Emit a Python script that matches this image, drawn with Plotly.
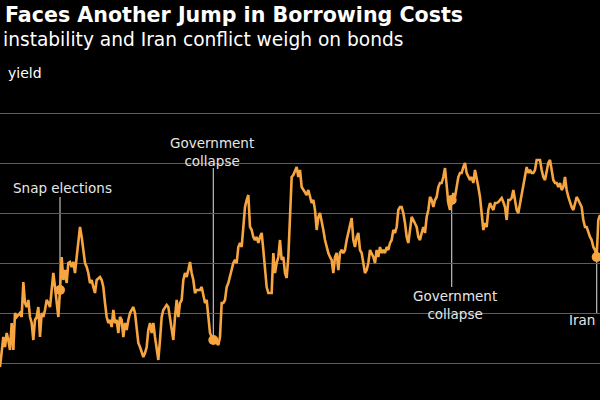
import pandas as pd
import numpy as np
import plotly.graph_objects as go

# French 10-year yield (%), evenly spaced samples
yields = [
    2.784, 2.852, 2.904, 2.864, 2.920, 2.892, 2.852, 2.960, 2.852, 3.000,
    2.984, 2.992, 3.000, 2.984, 3.124, 3.040, 3.024, 3.052, 2.984, 2.960,
    2.892, 2.972, 2.984, 3.024, 2.904, 3.000, 2.984, 3.012, 3.052, 3.040,
    3.024, 3.092, 3.160, 3.104, 3.040, 2.984, 3.092, 3.224, 3.132, 3.172,
    3.120, 3.200, 3.204, 3.184, 3.204, 3.160, 3.224, 3.292, 3.344, 3.304,
    3.240, 3.200, 3.184, 3.160, 3.120, 3.132, 3.104, 3.080, 3.132, 3.140,
    3.144, 3.132, 3.104, 3.040, 2.984, 2.960, 2.972, 2.944, 3.012, 2.960,
    2.972, 2.920, 2.984, 2.972, 2.904, 2.960, 2.932, 2.972, 3.000, 3.012,
    3.024, 3.000, 2.932, 2.880, 2.864, 2.840, 2.824, 2.840, 2.864, 2.932,
    2.960, 2.920, 2.960, 2.904, 2.864, 2.812, 2.892, 2.984, 3.012, 3.024,
    3.032, 3.024, 2.984, 2.932, 2.892, 2.984, 3.052, 2.984, 3.040, 3.052,
    3.132, 3.160, 3.144, 3.172, 3.204, 3.160, 3.132, 3.080, 3.092, 3.092,
    3.092, 3.104, 3.064, 3.040, 3.052, 2.984, 2.920, 2.904, 2.892, 2.900,
    2.880, 2.872, 2.904, 3.040, 3.040, 3.052, 3.104, 3.120, 3.144, 3.172,
    3.200, 3.212, 3.200, 3.264, 3.280, 3.264, 3.360, 3.424, 3.452, 3.472,
    3.344, 3.332, 3.304, 3.292, 3.304, 3.280, 3.304, 3.320, 3.252, 3.172,
    3.104, 3.080, 3.080, 3.080, 3.240, 3.160, 3.200, 3.224, 3.292, 3.212,
    3.224, 3.160, 3.140, 3.224, 3.384, 3.544, 3.552, 3.572, 3.584, 3.544,
    3.572, 3.504, 3.492, 3.480, 3.472, 3.492, 3.464, 3.440, 3.452, 3.412,
    3.332, 3.384, 3.400, 3.372, 3.332, 3.292, 3.264, 3.240, 3.224, 3.212,
    3.160, 3.224, 3.240, 3.172, 3.240, 3.252, 3.240, 3.252, 3.292, 3.320,
    3.360, 3.380, 3.292, 3.264, 3.304, 3.320, 3.252, 3.240, 3.200, 3.160,
    3.172, 3.200, 3.252, 3.240, 3.224, 3.200, 3.252, 3.224, 3.264, 3.240,
    3.252, 3.240, 3.264, 3.252, 3.280, 3.292, 3.332, 3.320, 3.344, 3.412,
    3.424, 3.424, 3.400, 3.360, 3.304, 3.280, 3.332, 3.384, 3.372, 3.360,
    3.344, 3.304, 3.292, 3.320, 3.344, 3.320, 3.384, 3.412, 3.464, 3.452,
    3.424, 3.452, 3.464, 3.504, 3.520, 3.520, 3.544, 3.580, 3.504, 3.440,
    3.412, 3.452, 3.480, 3.464, 3.504, 3.544, 3.560, 3.560, 3.584, 3.600,
    3.560, 3.544, 3.532, 3.544, 3.520, 3.572, 3.544, 3.504, 3.464, 3.384,
    3.332, 3.360, 3.344, 3.412, 3.440, 3.424, 3.412, 3.440, 3.440, 3.444,
    3.452, 3.460, 3.444, 3.424, 3.372, 3.452, 3.452, 3.460, 3.492, 3.452,
    3.412, 3.400, 3.440, 3.480, 3.504, 3.544, 3.584, 3.560, 3.572, 3.560,
    3.560, 3.572, 3.612, 3.612, 3.612, 3.572, 3.544, 3.532, 3.572, 3.600,
    3.612, 3.572, 3.532, 3.520, 3.520, 3.504, 3.520, 3.492, 3.504, 3.544,
    3.492, 3.464, 3.440, 3.424, 3.412, 3.440, 3.464, 3.452, 3.440, 3.424,
    3.372, 3.344, 3.344, 3.320, 3.304, 3.292, 3.264, 3.252, 3.224, 3.372,
    3.392,
]
dates = pd.date_range("2024-03-31", "2026-03-01", periods=len(yields))

event_dates = ["2024-06-09", "2024-12-04", "2025-09-08", "2026-02-25"]
event_labels = ["Snap elections", "Government<br>collapse", "Government<br>collapse", "Iran"]

title = "Faces Another Jump in Borrowing Costs"
subtitle = "instability and Iran conflict weigh on bonds"
unit_label = "yield"
grid_vals = [2.8, 3.0, 3.2, 3.4, 3.6, 3.8]

ORANGE = "#F6A540"
LEADER = "#BDBDBD"
TEXT = "#E6E6E6"
FONT = "DejaVu Sans"

# snap events to nearest observation
ev_idx = [int(np.argmin(np.abs((dates - pd.Timestamp(d)).days))) for d in event_dates]
ev_x = [dates[i] for i in ev_idx]
ev_y = [yields[i] for i in ev_idx]

fig = go.Figure()
fig.add_trace(go.Scatter(x=dates, y=yields, mode="lines",
                         line=dict(color=ORANGE, width=2.6), hoverinfo="skip"))

# label anchors (value units on y axis) and text placement
label_cfg = [
    # (line end y, text y, yanchor, xshift, yshift)
    (3.464, 3.464, "bottom", 2, -1),
    (3.580, 3.580, "bottom", -1, -3),
    (3.104, 3.104, "top", 3, 1),
    (3.000, 3.000, "top", 0, 3),
]
for (xe, ye, lab, cfg) in zip(ev_x, ev_y, event_labels, label_cfg):
    line_end = cfg[0]
    fig.add_shape(type="line", xref="x", yref="y", x0=xe, x1=xe, y0=ye, y1=line_end,
                  line=dict(color=LEADER, width=1.2), layer="below")
for (xe, lab, cfg) in zip(ev_x, event_labels, label_cfg):
    line_end, ty, ya, xs, ys = cfg
    xanchor = "right" if lab == "Iran" else "center"
    fig.add_annotation(x=xe, y=ty, xref="x", yref="y", text=lab, showarrow=False,
                       xanchor=xanchor, yanchor=ya, xshift=xs, yshift=ys, align="center",
                       font=dict(family=FONT, size=13.5, color=TEXT))

fig.add_trace(go.Scatter(x=ev_x, y=ev_y, mode="markers",
                         marker=dict(color=ORANGE, size=10), hoverinfo="skip"))

# header texts
fig.add_annotation(x=0, y=1.285, xref="paper", yref="paper", xanchor="left", yanchor="middle",
                   xshift=3, text="<b>%s</b>" % title, showarrow=False,
                   font=dict(family=FONT, size=20.6, color="#FFFFFF"))
fig.add_annotation(x=0, y=1.203, xref="paper", yref="paper", xanchor="left", yanchor="middle",
                   xshift=1, text=subtitle, showarrow=False,
                   font=dict(family=FONT, size=18.6, color="#FFFFFF"))
fig.add_annotation(x=0, y=1.09, xref="paper", yref="paper", xanchor="left", yanchor="middle",
                   xshift=6, text=unit_label, showarrow=False,
                   font=dict(family=FONT, size=14, color="#FFFFFF"))

fig.update_layout(
    width=600, height=400, paper_bgcolor="#000000", plot_bgcolor="#000000",
    margin=dict(l=0, r=0, t=100, b=0), showlegend=False,
    xaxis=dict(range=[dates[0], dates[-1]], showgrid=False, showticklabels=False,
               zeroline=False, showline=False, ticks=""),
    yaxis=dict(range=[2.652, 3.852], tickvals=grid_vals, showticklabels=False,
               showgrid=True, gridcolor="#5E5E5E", gridwidth=1.2, zeroline=False,
               showline=False, ticks=""),
)
fig.write_html("out.html")
